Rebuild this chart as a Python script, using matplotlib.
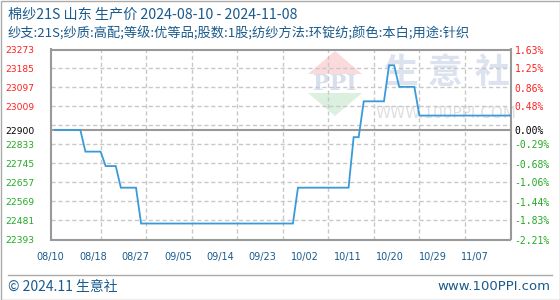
import matplotlib
matplotlib.use("Agg")
import matplotlib.pyplot as plt
from matplotlib.patches import Polygon, Rectangle
from matplotlib.lines import Line2D
import numpy as np

plt.rcParams['font.family'] = ['Noto Sans CJK SC', 'DejaVu Sans']

title = "棉纱21S 山东 生产价 2024-08-10 - 2024-11-08"
subtitle = "纱支:21S;纱质:高配;等级:优等品;股数:1股;纺纱方法:环锭纺;颜色:本白;用途:针织"
footer_left = "© 2024.11 生意社"
footer_right = "www.100PPI.com"

# daily prices 2024-08-10 .. 2024-11-08 (91 days)
prices = [
    22900, 22900, 22900, 22900, 22900, 22900,
    22800, 22800, 22800, 22800,
    22733, 22733, 22733,
    22633, 22633, 22633, 22633,
    22467, 22467, 22467, 22467, 22467, 22467, 22467, 22467, 22467, 22467,
    22467, 22467, 22467, 22467, 22467, 22467, 22467, 22467, 22467, 22467,
    22467, 22467, 22467, 22467, 22467, 22467, 22467, 22467, 22467, 22467,
    22467,
    22633, 22633, 22633, 22633, 22633, 22633, 22633, 22633, 22633, 22633, 22633,
    22867, 22867,
    23033, 23033, 23033, 23033, 23033,
    23200, 23200,
    23100, 23100, 23100, 23100,
    22967, 22967, 22967, 22967, 22967, 22967, 22967, 22967, 22967, 22967,
    22967, 22967, 22967, 22967, 22967, 22967, 22967, 22967, 22967,
]
base_price = 22900

x_labels = ["08/10", "08/18", "08/27", "09/05", "09/14", "09/23",
            "10/02", "10/11", "10/20", "10/29", "11/07"]
y_labels_up = ["23273", "23185", "23097", "23009"]
y_labels_down = ["22833", "22745", "22657", "22569", "22481", "22393"]
pct_up = ["1.63%", "1.25%", "0.86%", "0.48%"]
pct_down = ["-0.29%", "-0.68%", "-1.06%", "-1.44%", "-1.83%", "-2.21%"]

RED = "#ff2020"
GREEN = "#22aa22"
BLUE_TXT = "#1a5a8c"
LINE = "#3a9ad8"
GRID = "#c8c8c8"
FRAME = "#999999"

W, H = 560, 300
fig = plt.figure(figsize=(W / 100, H / 100), dpi=100)

# outer border
fig.add_artist(Rectangle((0.5 / W, 0.5 / H), 1 - 1 / W, 1 - 1 / H, transform=fig.transFigure,
                         fill=False, edgecolor="#aaaaaa", linewidth=1))

L, R, T, B = 50.5, 510.5, 49.5, 239.5
ax = fig.add_axes([L / W, 1 - B / H, (R - L) / W, (B - T) / H])

days = np.arange(len(prices))
ax.set_xlim(0, len(prices) - 1)
ymin, ymax = 22393, 23273
ax.set_ylim(ymin, ymax)

# grid
n_grid = 10
grid_y = np.linspace(ymin, ymax, n_grid + 1)
grid_x = np.linspace(0, len(prices) - 1, 11)
for gy in grid_y[1:-1]:
    ax.axhline(gy, color=GRID, lw=1, ls=(0, (3, 2)), zorder=1)
for gx in grid_x[1:-1]:
    ax.axvline(gx, color=GRID, lw=1, ls=(0, (3, 2)), zorder=1)
ax.axhline(base_price, color="#999999", lw=1.5, zorder=2)

# watermark (axes fraction coords)
def fx(px):
    return (px - L) / (R - L)

def fy(py):
    return (B - py) / (B - T)

ax.add_patch(Polygon([(fx(308), fy(74)), (fx(362), fy(74)), (fx(335), fy(51))],
                     closed=True, transform=ax.transAxes, facecolor="#fadada", edgecolor="none", zorder=0))
ax.add_patch(Polygon([(fx(308), fy(93)), (fx(362), fy(93)), (fx(335), fy(116))],
                     closed=True, transform=ax.transAxes, facecolor="#dbf0df", edgecolor="none", zorder=0))
ax.text(fx(335), fy(83.5), "PPI", transform=ax.transAxes, ha="center", va="center",
        fontsize=16, color="#d8deec", fontweight="bold", family="DejaVu Serif", zorder=0)
for ch, cx in zip("生意社", (401, 445, 492)):
    ax.text(fx(cx), fy(72), ch, transform=ax.transAxes, ha="center", va="center",
            fontsize=25, color="#dce2ee", fontweight="bold", zorder=0)
ax.text(fx(446), fy(113), "WWW.100PPI.COM", transform=ax.transAxes, ha="center", va="center",
        fontsize=11, color="#e0e0e0", family="DejaVu Sans", zorder=0)

ax.plot(days, prices, color=LINE, lw=1.3, zorder=3, solid_joinstyle="miter")

for s in ax.spines.values():
    s.set_color(FRAME)
    s.set_linewidth(1.5)

# y tick labels
up_pos = grid_y[::-1][:4]
down_pos = grid_y[::-1][5:]
ypos = list(up_pos) + [base_price] + list(down_pos)
ylabs = y_labels_up + [str(base_price)] + y_labels_down
ycols = [RED] * 4 + ["black"] + [GREEN] * 6
ax.set_yticks(ypos)
ax.set_yticklabels(ylabs, family="DejaVu Sans", fontsize=6.6)
for lab, c in zip(ax.get_yticklabels(), ycols):
    lab.set_color(c)
ax.tick_params(axis="y", length=0, pad=11.5)

ax2 = ax.twinx()
ax2.set_ylim(ymin, ymax)
ax2.set_yticks(ypos)
ax2.set_yticklabels(pct_up + ["0.00%"] + pct_down, family="DejaVu Sans Mono", fontsize=7)
for lab, c in zip(ax2.get_yticklabels(), ycols):
    lab.set_color(c)
ax2.tick_params(axis="y", length=0, pad=3)
for s in ax2.spines.values():
    s.set_visible(False)

xpos = np.linspace(-0.9, 83.0, len(x_labels))
ax.set_xticks(xpos)
ax.set_xticklabels(x_labels, family="DejaVu Sans", fontsize=7, color=BLUE_TXT)
ax.tick_params(axis="x", length=0, pad=9)

fig.text(8 / W, 1 - 15 / H, title, fontsize=10.2, color=BLUE_TXT, ha="left", va="center")
fig.text(8 / W, 1 - 34 / H, subtitle, fontsize=9.5, color=BLUE_TXT, ha="left", va="center")

fig.add_artist(Line2D([8 / W, 552 / W], [1 - 274.5 / H, 1 - 274.5 / H], transform=fig.transFigure,
                      color="#aaaaaa", lw=1))
fig.text(8 / W, 1 - 287 / H, footer_left, fontsize=10, color=BLUE_TXT, ha="left", va="center")
fig.text(550 / W, 1 - 287 / H, footer_right, fontsize=9.5, color=BLUE_TXT, ha="right", va="center",
         family="DejaVu Sans")

fig.savefig("out.png", dpi=100)
